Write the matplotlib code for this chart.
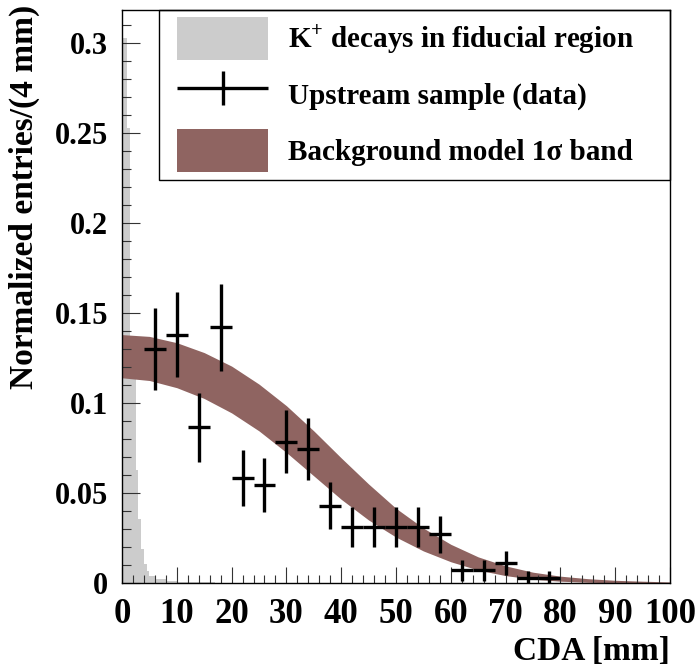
import numpy as np
import matplotlib
matplotlib.use("Agg")
import matplotlib.pyplot as plt
from matplotlib.patches import Patch, Rectangle
from matplotlib.container import ErrorbarContainer
from matplotlib.legend_handler import HandlerErrorbar
from matplotlib.ticker import MultipleLocator

plt.rcParams['font.family'] = 'Liberation Serif'
plt.rcParams['font.weight'] = 'bold'
plt.rcParams['axes.labelweight'] = 'bold'
plt.rcParams['mathtext.fontset'] = 'custom'
plt.rcParams['mathtext.rm'] = 'Liberation Serif:bold'
plt.rcParams['mathtext.bf'] = 'Liberation Serif:bold'

# K+ decays in fiducial region (grey histogram)
k_edges = [0, 0.5, 1, 1.5, 2, 2.5, 3, 3.5, 4, 4.5, 5, 6, 8, 10, 13, 17]
k_heights = [0.303, 0.303, 0.253, 0.13, 0.12, 0.063, 0.0356, 0.019, 0.0106,
             0.0067, 0.004, 0.0022, 0.0012, 0.0008, 0.0004]

# Upstream sample (data), 4 mm bins
cda = [6, 10, 14, 18, 22, 26, 30, 34, 38, 42, 46, 50, 54, 58, 62, 66, 70, 74, 78]
entries = [0.130, 0.138, 0.0865, 0.142, 0.0585, 0.0545, 0.0785, 0.0745, 0.043,
           0.031, 0.031, 0.031, 0.031, 0.027, 0.007, 0.007, 0.0112, 0.003, 0.003]
errors = [0.023, 0.0235, 0.019, 0.024, 0.0155, 0.015, 0.0176, 0.017, 0.013,
          0.0112, 0.0112, 0.0112, 0.0112, 0.0105, 0.0057, 0.0057, 0.0068, 0.0035, 0.0035]

# Background model 1 sigma band
band_x = [0, 5, 10, 15, 20, 25, 30, 35, 40, 45, 50, 55, 60, 65, 70, 75, 80, 85, 90, 95, 100]
band_lo = [0.114, 0.1125, 0.1085, 0.1025, 0.0945, 0.0845, 0.0725, 0.0595, 0.0465, 0.035, 0.0255,
           0.0178, 0.0118, 0.0072, 0.0041, 0.0021, 0.001, 0.0004, 0.0001, 0.0, 0.0]
band_hi = [0.138, 0.137, 0.1335, 0.128, 0.1205, 0.1105, 0.0985, 0.0845, 0.0695, 0.055, 0.0415,
           0.0305, 0.0215, 0.0145, 0.0095, 0.006, 0.0038, 0.0024, 0.0015, 0.001, 0.0006]

band_color = '#8f6461'
grey = '#cccccc'

fig = plt.figure(figsize=(6.98, 6.71), dpi=100)
ax = fig.add_axes([122/698, 1 - 583/671, 548/698, 573/671])

ax.stairs(k_heights, k_edges, fill=True, color=grey, zorder=1)
ax.fill_between(band_x, band_lo, band_hi, color=band_color, lw=0, zorder=1.5)
eb = ax.errorbar(cda, entries, yerr=errors, xerr=2, fmt='none', ecolor='black',
                 elinewidth=2.4, capsize=0, zorder=3)

ax.set_xlim(0, 100)
ax.set_ylim(0, 573/1800)
ax.xaxis.set_major_locator(MultipleLocator(10))
ax.xaxis.set_minor_locator(MultipleLocator(2))
ax.yaxis.set_major_locator(MultipleLocator(0.05))
ax.yaxis.set_minor_locator(MultipleLocator(0.01))
ax.yaxis.set_major_formatter(plt.FuncFormatter(lambda v, p: f"{v:g}"))

ax.tick_params(axis='both', which='both', direction='in', top=False, right=False,
               width=0.8, colors='#333333', labelcolor='black')
ax.tick_params(axis='y', which='major', length=13, pad=10, labelsize=22)
ax.tick_params(axis='y', which='minor', length=6.5)
ax.tick_params(axis='x', which='major', length=11.5, pad=11, labelsize=25)
ax.tick_params(axis='x', which='minor', length=6)
for s in ax.spines.values():
    s.set_linewidth(1.0)
    s.set_color('black')

ax.set_xlabel('CDA [mm]', fontsize=24, fontweight='bold', loc='right')
ax.xaxis.set_label_coords(1.0, -0.092)
ax.set_ylabel('Normalized entries/(4 mm)', fontsize=24, fontweight='bold', loc='top')
ax.yaxis.set_label_coords(-0.15, 1.01)

# legend frame (top/right edges shared with the axes frame)
x0 = (159 - 122) / 548
y0 = (583 - 180) / 573
ax.add_patch(Rectangle((x0, y0), 1 - x0, 1 - y0, transform=ax.transAxes, fill=False,
                       edgecolor='black', lw=1.0, zorder=4, clip_on=False))

handles = [Patch(facecolor=grey, edgecolor='none'), eb, Patch(facecolor=band_color, edgecolor='none')]
labels = [r'K$^{+}$ decays in fiducial region', 'Upstream sample (data)', 'Background model 1σ band']
leg = ax.legend(handles, labels, loc='upper left',
                bbox_to_anchor=((177 - 122) / 548, (583 - 17) / 573),
                borderaxespad=0, borderpad=0, frameon=False,
                prop={'family': 'Liberation Serif', 'weight': 'bold', 'size': 21},
                handlelength=3.12, handleheight=1.89, handletextpad=0.69, labelspacing=0.445,
                handler_map={ErrorbarContainer: HandlerErrorbar(xerr_size=1.56, yerr_size=0.58)})
leg.set_zorder(5)

fig.savefig('out.png', dpi=100)
